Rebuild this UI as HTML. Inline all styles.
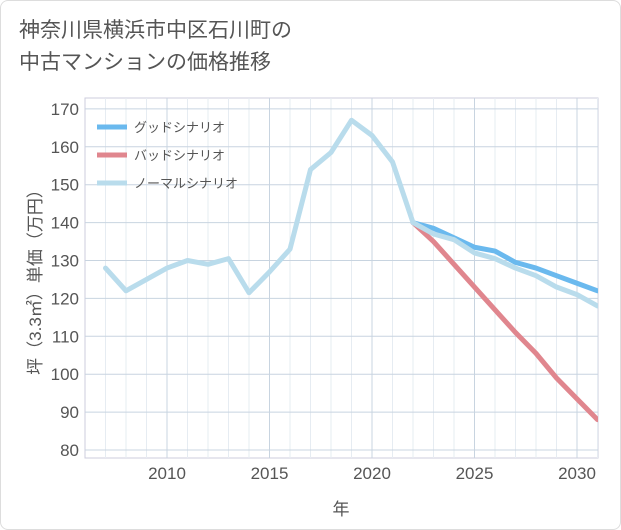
<!DOCTYPE html>
<html><head><meta charset="utf-8"><style>
body{margin:0;background:#fff;font-family:"Liberation Sans","Noto Sans CJK JP",sans-serif}
#wrap{position:relative;width:621px;height:530px;background:#fff;border:1px solid #ddd;box-sizing:border-box;border-radius:8px;overflow:hidden}
#title{position:absolute;left:18px;top:14px;font-size:21px;line-height:32px;color:#555}
</style></head><body>
<div id="wrap">
<div id="title">神奈川県横浜市中区石川町の<br>中古マンションの価格推移</div>
<svg id="c" width="621" height="530" style="position:absolute;left:0;top:0"></svg>
</div>
<script>
const years=[2007,2008,2009,2010,2011,2012,2013,2014,2015,2016,2017,2018,2019,2020,2021,2022,2023,2024,2025,2026,2027,2028,2029,2030,2031];
const normal=[128,122,125,128,130,129,130.5,121.5,127,133,154,158.5,167,163,156,140,137,135.5,132,130.5,128,126,123,121,118];
const goodYears=[2022,2023,2024,2025,2026,2027,2028,2029,2030,2031];
const good=[140,138.5,136,133.5,132.5,129.5,128,126,124,122];
const bad=[140,135,129,123,117,111,105.5,99,93.5,88];
const yTicks=[80,90,100,110,120,130,140,150,160,170];
const xTicks=[2010,2015,2020,2025,2030];
const L=84,R=597,T=97,B=457;
const x=v=>166+(v-2010)*20.5;
const y=v=>449-(v-80)*37.9/10;
const svg=document.getElementById('c');const NS='http://www.w3.org/2000/svg';
function el(t,a,p){const e=document.createElementNS(NS,t);for(const k in a)e.setAttribute(k,a[k]);(p||svg).appendChild(e);return e;}
const frame=el('rect',{x:L,y:T,width:R-L,height:B-T,fill:'#fff',stroke:'#ccd',});


for(let yr=2007;yr<=2031;yr++){const l=el('line',{x1:x(yr),x2:x(yr),y1:T,y2:B,stroke:xTicks.includes(yr)?'#c8d4e0':'#e6ecf2'});

}
yTicks.forEach(v=>{const l=el('line',{x1:L,x2:R,y1:y(v),y2:y(v),stroke:'#c8d4e0'});


const t=el('text',{x:L-6,y:y(v)+6,'text-anchor':'end','font-size':17,fill:'#555'});t.textContent=v;

});
xTicks.forEach(v=>{const t=el('text',{x:x(v),y:478,'text-anchor':'middle','font-size':17,fill:'#555'});t.textContent=v;

});
const xt=el('text',{x:340,y:514,'text-anchor':'middle','font-size':17,fill:'#555'});xt.textContent='年';


const yt=el('text',{x:0,y:0,'text-anchor':'middle','font-size':17,fill:'#555',transform:'translate(40,277) rotate(-90)'});yt.textContent='坪（3.3㎡）単価（万円）';


function line(xs,vs,color,name){const p=el('polyline',{points:xs.map((a,i)=>x(a)+','+y(vs[i])).join(' '),fill:'none',stroke:color,'stroke-width':5,'stroke-linejoin':'round','stroke-linecap':'round','clip-path':'url(#cl)'});

}
const cp=el('clipPath',{id:'cl'});el('rect',{x:L,y:T,width:R-L,height:B-T},cp);
line(goodYears,good,'#6ab9ee','good-scenario-line');
line(goodYears,bad,'#e0868e','bad-scenario-line');
line(years,normal,'#b9dcec','normal-scenario-line');
[['グッドシナリオ','#6ab9ee'],['バッドシナリオ','#e0868e'],['ノーマルシナリオ','#b9dcec']].forEach((d,i)=>{
const g=el('g',{});

el('line',{x1:96,x2:126,y1:126+i*28,y2:126+i*28,stroke:d[1],'stroke-width':5},g);
const t=el('text',{x:133,y:131+i*28,'font-size':13,fill:'#555'},g);t.textContent=d[0];});
</script>
</body></html>
